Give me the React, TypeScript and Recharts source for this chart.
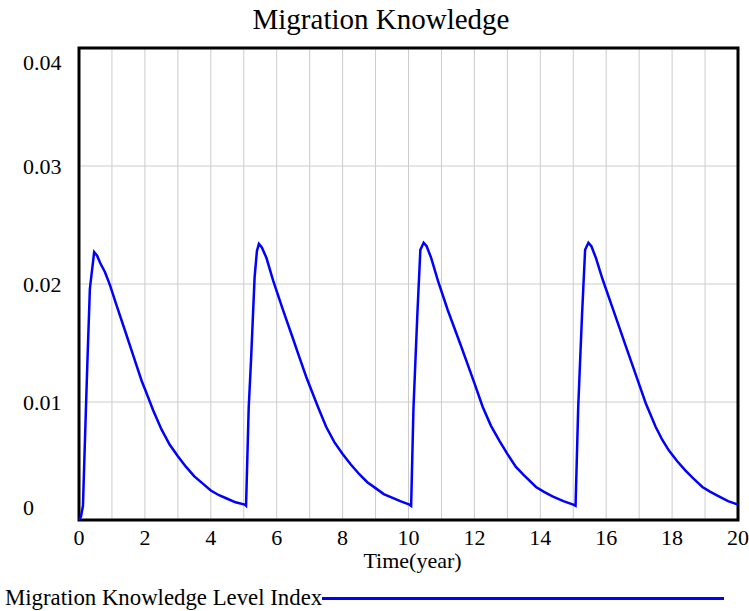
import React from 'react';
import { LineChart, Line, XAxis, YAxis, CartesianGrid, ReferenceArea, Legend } from 'recharts';

const chartTitle = 'Migration Knowledge';
const seriesName = 'Migration Knowledge Level Index';
const xAxisTitle = 'Time(year)';

const times = [
  0, 0.06, 0.12, 0.19, 0.25, 0.33, 0.46, 0.55, 0.64, 0.79, 0.94, 1.15, 1.39, 1.65, 1.9, 2.0, 2.25, 2.5, 2.75, 3.0, 3.25, 3.5, 3.75, 4.0, 4.25, 4.5, 4.75, 5.03, 5.07,
  5.15, 5.22, 5.33, 5.4, 5.46, 5.55, 5.69, 5.89, 6.19, 6.49, 6.7, 6.9, 7.25, 7.5, 7.75, 8.0, 8.25, 8.5, 8.75, 9.0, 9.25, 9.5, 9.75, 10.03, 10.08,
  10.15, 10.21, 10.27, 10.36, 10.46, 10.55, 10.69, 10.89, 11.19, 11.6, 12.0, 12.25, 12.5, 12.76, 13.0, 13.26, 13.5, 13.87, 14.1, 14.37, 14.7, 15.0, 15.07,
  15.15, 15.21, 15.27, 15.36, 15.46, 15.55, 15.69, 15.89, 16.19, 16.6, 16.95, 17.2, 17.5, 17.7, 17.9, 18.15, 18.4, 18.65, 18.92, 19.15, 19.42, 19.7, 20.0,
];

const knowledge = [
  0, 0.0003, 0.0012, 0.0076, 0.013, 0.0196, 0.0227, 0.0224, 0.0218, 0.021, 0.0199, 0.0181, 0.0161, 0.0139, 0.0118, 0.0111, 0.0093, 0.0077, 0.0064, 0.0054, 0.0045, 0.0037, 0.0031, 0.0025, 0.0021, 0.0018, 0.0015, 0.0013, 0.0012,
  0.0095, 0.0135, 0.0206, 0.0228, 0.0234, 0.0231, 0.0222, 0.0203, 0.0178, 0.0154, 0.0137, 0.0121, 0.0096, 0.0079, 0.0066, 0.0056, 0.0047, 0.0039, 0.0032, 0.0027, 0.0022, 0.0019, 0.0016, 0.0013, 0.0012,
  0.0094, 0.0135, 0.0175, 0.0229, 0.0235, 0.0232, 0.0222, 0.0203, 0.0178, 0.0147, 0.0116, 0.0096, 0.008, 0.0067, 0.0056, 0.0045, 0.0038, 0.0028, 0.0024, 0.002, 0.0016, 0.0013, 0.0012,
  0.0095, 0.0136, 0.0176, 0.0229, 0.0235, 0.0232, 0.0222, 0.0204, 0.018, 0.0147, 0.0119, 0.0099, 0.0079, 0.0068, 0.0059, 0.005, 0.0042, 0.0035, 0.0028, 0.0024, 0.002, 0.0016, 0.0013,
];

const xGridTicks = [0, 1, 2, 3, 4, 5, 6, 7, 8, 9, 10, 11, 12, 13, 14, 15, 16, 17, 18, 19, 20];
const xLabelTicks = [0, 2, 4, 6, 8, 10, 12, 14, 16, 18, 20];
const yTicks = [0, 0.01, 0.02, 0.03, 0.04];
const yTickLabels = ['0', '0.01', '0.02', '0.03', '0.04'];

const data = times.map((t, i) => ({ t, v: knowledge[i] }));

const FONT = '"Liberation Serif", "Times New Roman", Times, serif';

function YTick(props: any) {
  const { y, payload } = props;
  const idx = yTicks.findIndex((v) => Math.abs(v - payload.value) < 1e-9);
  let dy = 0;
  if (idx === yTicks.length - 1) dy = 14;
  if (idx === 0) dy = -13;
  return (
    <text x={23} y={y + dy} textAnchor="start" dominantBaseline="central" fontFamily={FONT} fontSize={22} fill="#000">
      {idx >= 0 ? yTickLabels[idx] : ''}
    </text>
  );
}

function XTick(props: any) {
  const { x, payload } = props;
  if (!xLabelTicks.includes(payload.value)) return <g />;
  return (
    <text x={x} y={537} textAnchor="middle" dominantBaseline="central" fontFamily={FONT} fontSize={22} fill="#000">
      {String(payload.value)}
    </text>
  );
}

function LegendContent() {
  return (
    <div style={{ height: 26, display: 'flex', alignItems: 'center', fontFamily: FONT, fontSize: 22.8, color: '#000', paddingLeft: 5 }}>
      <span style={{ whiteSpace: 'nowrap', lineHeight: '26px' }}>{seriesName}</span>
      <span style={{ display: 'inline-block', width: 402, height: 3, background: '#0000ff' }} />
    </div>
  );
}

export default function App() {
  return (
    <div style={{ position: 'absolute', left: 0, top: 0, width: 749, height: 611, background: '#fff' }}>
      <LineChart width={749} height={611} data={data} margin={{ top: 48, right: 11, left: 0, bottom: 0 }}>
        <text x={381} y={29} textAnchor="middle" fontFamily={FONT} fontSize={29} fill="#000">
          {chartTitle}
        </text>
        <CartesianGrid stroke="#cccccc" strokeWidth={1} />
        <XAxis
          dataKey="t"
          type="number"
          domain={[0, 20]}
          ticks={xGridTicks}
          interval={0}
          height={65}
          axisLine={false}
          tickLine={false}
          tick={<XTick />}
          label={{ value: xAxisTitle, position: 'insideTop', offset: 32, dx: 4, fontFamily: FONT, fontSize: 22, fill: '#000' }}
        />
        <YAxis
          type="number"
          domain={[0, 0.04]}
          ticks={yTicks}
          interval={0}
          width={79}
          axisLine={false}
          tickLine={false}
          tick={<YTick />}
        />
        <Line
          type="linear"
          dataKey="v"
          name={seriesName}
          stroke="#0000ff"
          strokeWidth={2.5}
          dot={false}
          isAnimationActive={false}
        />
        <ReferenceArea x1={0} x2={20} y1={0} y2={0.04} fill="none" stroke="#000" strokeWidth={3} ifOverflow="visible" />
        <Legend verticalAlign="bottom" align="left" wrapperStyle={{ left: 0, width: 749, bottom: 0 }} content={<LegendContent />} />
      </LineChart>
    </div>
  );
}
